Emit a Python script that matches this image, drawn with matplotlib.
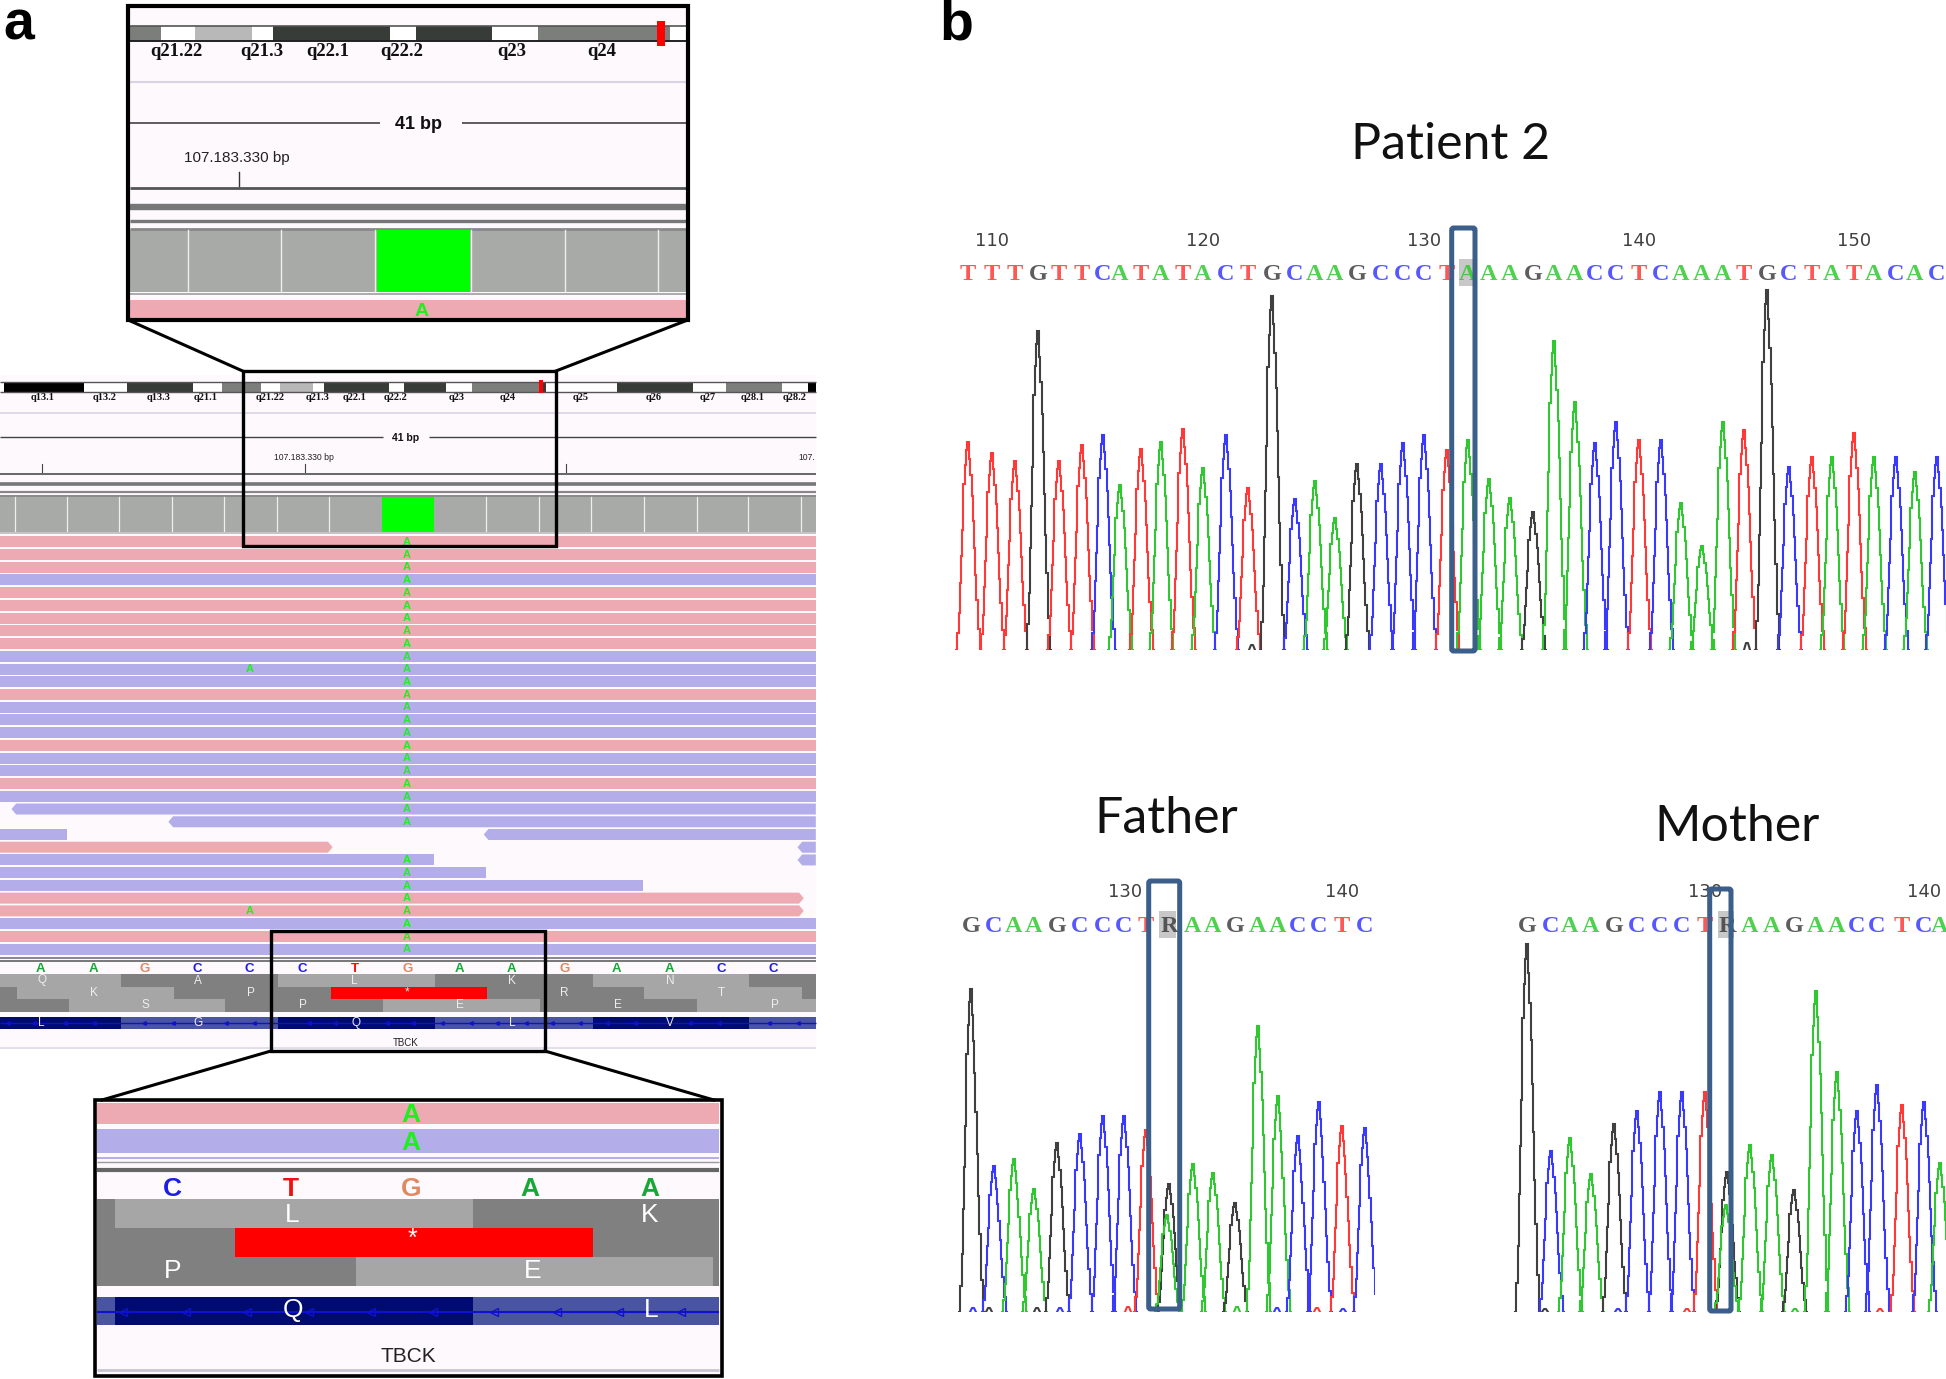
import matplotlib
matplotlib.use('Agg')
import matplotlib.pyplot as plt
from matplotlib.patches import Rectangle, Polygon, FancyBboxPatch

W, H = 1946, 1379

# Colours
BG = '#fdf9fd'
PINK = '#eeaab2'
LILAC = '#b3aeea'
LIME = '#1ef01e'
LIGHT = '#a6a6a6'
DARK = '#808080'
RED = '#ff0000'
NAVY = '#000b70'
MEDBLUE = '#4a55a0'
BOXBLUE = '#3b5f8a'
COVER = '#a8aaa8'
band_cols = {'k': '#000000', 'w': '#ffffff', 'd': '#383c38', 'g': '#7c7e7c', 'l': '#b8b8b8'}
aa_cols = {'l': LIGHT, 'd': DARK, 'r': RED}
igv_base_cols = {'A': '#18a838', 'G': '#e08860', 'C': '#1c1ce8', 'T': '#f01010'}
trace_cols = {'A': '#30c830', 'C': '#3a3aff', 'G': '#404040', 'T': '#ff3838', 'R': '#404040'}

# Panel a, top inset: ideogram
inset_band_edges = [248, 307, 372, 482, 522, 745, 796, 940, 1028, 1282, 1313]
inset_band_kinds = ['g', 'w', 'l', 'w', 'd', 'w', 'd', 'w', 'g', 'w']
inset_cyto = ['q21.22', 'q21.3', 'q22.1', 'q22.2', 'q23', 'q24']
inset_cyto_x = [338, 501, 627, 769, 979, 1151]
inset_cov_ticks = [360, 538, 718, 900, 1080, 1258]

# Panel a, main view: ideogram
main_band_edges = [0, 8, 160, 243, 370, 424, 500, 536, 598, 620, 744, 773, 853, 902, 1038, 1044, 1180, 1325, 1388, 1496, 1546, 1560]
main_band_kinds = ['w', 'k', 'w', 'd', 'w', 'g', 'w', 'l', 'w', 'd', 'w', 'd', 'w', 'g', 'd', 'w', 'd', 'w', 'g', 'w', 'k']
main_cyto = ['q13.1', 'q13.2', 'q13.3', 'q21.1', 'q21.22', 'q21.3', 'q22.1', 'q22.2', 'q23', 'q24', 'q25', 'q26', 'q27', 'q28.1', 'q28.2']
main_cyto_x = [81, 200, 304, 394, 517, 608, 678, 757, 874, 970, 1110, 1250, 1354, 1440, 1520]
main_ruler_ticks = [81, 583, 1083]
main_cov_ticks = [29, 129, 228, 329, 429, 530, 629, 930, 1030, 1130, 1231, 1332, 1431, 1532]

# Reads: (strand colour, start, end, start pointed, end pointed)
reads = [
    [('p', 0, 1560, 0, 0)], [('p', 0, 1560, 0, 0)], [('p', 0, 1560, 0, 0)], [('b', 0, 1560, 0, 0)],
    [('p', 0, 1560, 0, 0)], [('p', 0, 1560, 0, 0)], [('p', 0, 1560, 0, 0)], [('p', 0, 1560, 0, 0)],
    [('p', 0, 1560, 0, 0)], [('b', 0, 1560, 0, 0)], [('b', 0, 1560, 0, 0)], [('b', 0, 1560, 0, 0)],
    [('p', 0, 1560, 0, 0)], [('b', 0, 1560, 0, 0)], [('b', 0, 1560, 0, 0)], [('b', 0, 1560, 0, 0)],
    [('p', 0, 1560, 0, 0)], [('b', 0, 1560, 0, 0)], [('b', 0, 1560, 0, 0)], [('p', 0, 1560, 0, 0)],
    [('b', 0, 1560, 0, 0)], [('b', 22, 1560, 1, 0)], [('b', 322, 1560, 1, 0)],
    [('b', 0, 128, 0, 0), ('b', 925, 1560, 1, 0)],
    [('p', 0, 636, 0, 1), ('b', 1525, 1560, 1, 0)],
    [('b', 0, 830, 0, 0), ('b', 1525, 1560, 1, 0)],
    [('b', 0, 930, 0, 0)], [('b', 0, 1230, 0, 0)],
    [('p', 0, 1537, 0, 1)], [('p', 0, 1537, 0, 1)],
    [('b', 0, 1560, 0, 0)], [('p', 0, 1560, 0, 0)], [('b', 0, 1560, 0, 0)],
]
rows_no_variant = [23, 24]
extra_a_rows = [10, 29]

# Sequence and amino-acid tracks of the main view
main_bases = list('AAGCCCTGAAGAACC')
main_bases_x = [77, 178, 277, 377, 477, 578, 678, 779, 879, 979, 1079, 1179, 1280, 1380, 1479]
aa1_edges, aa1_kinds = [0, 231, 531, 831, 1133, 1433, 1560], ['l', 'd', 'l', 'd', 'l', 'd']
aa2_edges, aa2_kinds = [0, 32, 332, 632, 931, 1232, 1533, 1560], ['d', 'l', 'd', 'r', 'd', 'l', 'd']
aa3_edges, aa3_kinds = [0, 131, 431, 732, 1033, 1333, 1560], ['d', 'l', 'd', 'l', 'd', 'l']
aa1_labels, aa1_x = list('QALKN'), [80, 379, 678, 979, 1281]
aa2_labels, aa2_x = list('KP*RT'), [180, 480, 779, 1079, 1380]
aa3_labels, aa3_x = list('SPEEP'), [278, 579, 880, 1181, 1481]
gene_edges = [0, 231, 531, 831, 1133, 1433, 1560]
gene_kinds = [NAVY, MEDBLUE, NAVY, MEDBLUE, NAVY, MEDBLUE]
gene_labels, gene_labels_x = list('LGQLV'), [78, 379, 680, 979, 1281]
gene_arrows = [15, 65, 125, 180, 275, 330, 433, 485, 590, 640, 740, 790, 845, 900, 950, 1005, 1055, 1110, 1160, 1215,
               1320, 1375, 1470, 1525]

# Bottom inset
zoom_bases = list('CTGAA')
zoom_bases_x = [330, 556, 786, 1014, 1243]
zoom_aa1_edges, zoom_aa1_kinds = [185, 220, 904, 1375], ['d', 'l', 'd']
zoom_aa2_edges, zoom_aa2_kinds = [185, 450, 1133, 1375], ['d', 'r', 'd']
zoom_aa3_edges, zoom_aa3_kinds = [185, 680, 1363, 1375], ['d', 'l', 'd']
zoom_gene_edges, zoom_gene_kinds = [185, 220, 904, 1375], [MEDBLUE, NAVY, MEDBLUE]
zoom_arrows = [235, 355, 473, 590, 710, 828, 945, 1065, 1183, 1302]

# Panel b: chromatograms, peak position and peak height
patient_seq = list('TTTGTTCATATACTGCAAGCCCTAAAGAACCTCAAATGCTATACAC')
patient_first_base = 109
patient_pos = [968, 992, 1015, 1038, 1059, 1082, 1103, 1120, 1141, 1161, 1183, 1203, 1226, 1248, 1272, 1295, 1315, 1335,
               1357, 1381, 1403, 1424, 1447, 1468, 1489, 1510, 1533, 1554, 1575, 1595, 1616, 1639, 1661, 1681, 1702,
               1723, 1744, 1767, 1789, 1812, 1832, 1854, 1874, 1896, 1915, 1937]
patient_height = [208, 197, 189, 319, 189, 205, 215, 165, 201, 208, 221, 182, 215, 162, 354, 151, 169, 132, 186, 186,
                  207, 215, 200, 210, 171, 152, 138, 309, 248, 207, 228, 210, 210, 147, 104, 228, 220, 360, 183, 193,
                  193, 217, 193, 193, 178, 193]
patient_ticks = [110, 120, 130, 140, 150]
patient_small = [(1252, 'G', 5), (1747, 'G', 7)]

father_seq = list('GCAAGCCCTRAAGAACCTC')
father_pos = [971, 994, 1014, 1034, 1057, 1080, 1103, 1124, 1146, 1169, 1193, 1213, 1235, 1258, 1278, 1298, 1319, 1342, 1365]
father_height = [323, 146, 153, 123, 169, 178, 196, 196, 182, 128, 148, 139, 109, 286, 216, 176, 210, 186, 184]
father_het_pos, father_het_height = 1167, 97
father_ticks = [(130, 1125), (140, 1342)]
father_small = [(973, 'C', 4), (989, 'G', 4), (1037, 'G', 4), (1060, 'C', 4), (1128, 'T', 5), (1237, 'A', 5),
                (1277, 'C', 4), (1317, 'T', 4), (1343, 'C', 3)]

mother_seq = list('GCAAGCCCTRAAGAACCTCA')
mother_pos = [1527, 1551, 1570, 1591, 1614, 1637, 1660, 1682, 1705, 1727, 1750, 1772, 1794, 1816, 1837, 1857, 1877, 1902, 1924, 1940]
mother_height = [368, 161, 174, 138, 188, 201, 220, 220, 220, 140, 167, 157, 122, 321, 240, 201, 227, 207, 210, 149]
mother_het_pos, mother_het_height = 1726, 107
mother_ticks = [(130, 1705), (140, 1924)]
mother_small = [(1545, 'G', 3), (1618, 'C', 3), (1687, 'T', 3), (1795, 'A', 3), (1880, 'T', 3)]

# One peak: offset in pixels, share of peak height
peak_dx = [-12, -10, -8.6, -7.3, -6.2, -5.3, -4, -2.8, -1.7, -.6, .6, 1.8, 3, 4, 5, 6.4, 7.7, 9, 11, 13]
peak_frac = [0, .08, .18, .32, .45, .575, .8, .89, .96, 1, 1, .92, .84, .74, .62, .49, .36, .24, .1, 0]


def band(ax, x0, x1, y0, y1, color, z=1):
    ax.add_patch(Rectangle((x0, y0), x1 - x0, y1 - y0, fc=color, ec='none', zorder=z))


def hline(ax, y, x0, x1, color, lw, z=2):
    ax.plot([x0, x1], [y, y], color=color, lw=lw, solid_capstyle='butt', zorder=z)


def bands(ax, edges, kinds, y0, y1, cols):
    for i, k in enumerate(kinds):
        band(ax, edges[i], edges[i + 1], y0, y1, cols.get(k, k))


def labels(ax, names, xs, y, size, color='#eeeeee', **kw):
    for n, x in zip(names, xs):
        ax.text(x, y, n, fontsize=size, color=color, ha='center', va='center', zorder=6,
                family='Liberation Sans', **kw)


def draw_read(ax, read, y):
    kind, x0, x1, pt0, pt1 = read
    col = PINK if kind == 'p' else LILAC
    top, bot = y - 5.5, y + 5.5
    tip = 9
    pts = [(x0 + tip * pt0, top), (x1 - tip * pt1, top)]
    if pt1:
        pts.append((x1, y))
    pts += [(x1 - tip * pt1, bot), (x0 + tip * pt0, bot)]
    if pt0:
        pts.append((x0, y))
    ax.add_patch(Polygon(pts, closed=True, fc=col, ec='none', zorder=2))


def draw_trace(pos, heights, seq, x0, x1, base_y, letter_y, ticks, tick_y, small, het=None):
    ax = fig.add_axes([x0 / W, 1 - base_y / H, (x1 - x0) / W, 400 / H], zorder=2)
    ax.set_xlim(x0, x1)
    ax.set_ylim(0, 400)
    ax.axis('off')
    ax.patch.set_alpha(0)
    for x, h, b in zip(pos, heights, seq):
        ax.plot([x + d for d in peak_dx], [h * f for f in peak_frac], color=trace_cols[b], lw=1.5,
                drawstyle='steps-mid', solid_joinstyle='miter')
    if het:
        ax.plot([het[0] + d for d in peak_dx], [het[1] * f for f in peak_frac], color=trace_cols['A'], lw=1.5,
                drawstyle='steps-mid')
    for x, b, h in small:
        ax.plot([x - 3, x - 1, x + 1, x + 3], [0, h, h, 0], color=trace_cols[b], lw=1.5)
    for x, b in zip(pos, seq):
        canvas.text(x, letter_y, b, fontsize=17.5, fontweight='bold', color=trace_cols[b], ha='center', va='center',
                    family='Liberation Serif', alpha=.85, zorder=3)
    for lab, x in ticks:
        canvas.text(x, tick_y, str(lab), fontsize=13, color='#404040', ha='center', va='center',
                    family='DejaVu Sans', zorder=3)


fig = plt.figure(figsize=(W / 100, H / 100), dpi=100)

# Page canvas in pixels for panel b
canvas = fig.add_axes([0, 0, 1, 1], zorder=1)
canvas.set_xlim(0, W)
canvas.set_ylim(H, 0)
canvas.axis('off')

# Panel a shares one horizontal scale, 1568 units over 820 pixels
igv = fig.add_axes([0, 0, 820 / W, 1], zorder=1.5)
igv.set_xlim(0, 1568)
igv.set_ylim(H, 0)
igv.axis('off')
igv.patch.set_alpha(0)

# Main view
band(igv, 0, 1560, 375, 1049, BG, 0)
bands(igv, main_band_edges, main_band_kinds, 382, 391.5, band_cols)
hline(igv, 382, 0, 1560, '#555555', 1)
hline(igv, 391.5, 0, 1560, '#555555', 1)
band(igv, 1030, 1038, 380, 393, RED, 3)
for n, x in zip(main_cyto, main_cyto_x):
    igv.text(x, 397, n, fontsize=7.5, fontweight='bold', family='Liberation Serif', ha='center', va='center', color='#111111')
hline(igv, 413, 0, 1560, '#d8d4e4', 1.2)
hline(igv, 437, 0, 733, '#444444', 1)
hline(igv, 437, 820, 1560, '#444444', 1)
igv.text(775, 438, '41 bp', fontsize=7.5, fontweight='bold', family='Liberation Sans', ha='center', va='center', color='#111111')
igv.text(582, 457, '107.183.330 bp', fontsize=6.2, family='Liberation Sans', ha='center', va='center', color='#222222')
igv.text(1526, 457, '107.', fontsize=6.2, family='Liberation Sans', ha='left', va='center', color='#222222')
for x in main_ruler_ticks:
    igv.plot([x, x], [464, 472], color='#444444', lw=.8, zorder=2)
hline(igv, 473.6, 0, 1560, '#666666', 1.4)
hline(igv, 484, 0, 1560, '#777777', 2.6)
hline(igv, 491.5, 0, 1560, '#888888', 1.6)
hline(igv, 496, 0, 1560, '#888888', 1.4)
band(igv, 0, 1560, 497, 531.5, COVER)
band(igv, 730, 830, 497, 531.5, '#00ff00', 3)
for x in main_cov_ticks:
    igv.plot([x, x], [497, 531.5], color='#eeeeee', lw=.9, zorder=2)
hline(igv, 533, 0, 1560, '#bbbbbb', 1.2)

# Read stack
for i, row in enumerate(reads):
    y = 541.7 + i * 12.73
    for r in row:
        draw_read(igv, r, y)
    if i not in rows_no_variant:
        igv.text(778, y + .3, 'A', fontsize=8, fontweight='bold', color=LIME, family='Liberation Sans', ha='center', va='center', zorder=4)
    if i in extra_a_rows:
        igv.text(477, y + .3, 'A', fontsize=8, fontweight='bold', color=LIME, family='Liberation Sans', ha='center', va='center', zorder=4)
hline(igv, 957.5, 0, 1560, '#888888', 1.4)
hline(igv, 961, 0, 1560, '#777777', 1.4)

# Sequence, translation and gene tracks
for b, x in zip(main_bases, main_bases_x):
    igv.text(x, 969, b, fontsize=9.5, fontweight='bold', color=igv_base_cols[b], family='Liberation Sans', ha='center', va='center', zorder=4)
bands(igv, aa1_edges, aa1_kinds, 974, 986.7, aa_cols)
bands(igv, aa2_edges, aa2_kinds, 986.7, 999.3, aa_cols)
bands(igv, aa3_edges, aa3_kinds, 999.3, 1012, aa_cols)
labels(igv, aa1_labels, aa1_x, 980.5, 8.5)
labels(igv, aa2_labels, aa2_x, 992.5, 8.5)
labels(igv, aa3_labels, aa3_x, 1005.5, 8.5)
bands(igv, gene_edges, gene_kinds, 1016.7, 1029.3, {})
hline(igv, 1023, 0, 1560, '#1010d0', 1)
igv.plot(gene_arrows, [1023] * len(gene_arrows), ls='none', marker='<', ms=2.5, color='#1010d0', zorder=3)
labels(igv, gene_labels, gene_labels_x, 1023, 8.5)
labels(igv, ['TBCK'], [776], 1042.7, 7, color='#222222')
hline(igv, 1048, 0, 1560, '#e2deea', 1.4)

# Top inset
band(igv, 245, 1315, 6, 320, BG, 4)
for i, k in enumerate(inset_band_kinds):
    band(igv, inset_band_edges[i], inset_band_edges[i + 1], 25.7, 41, band_cols[k], 4.1)
hline(igv, 25.7, 248, 1313, '#555555', 1.2, 4.2)
hline(igv, 41, 248, 1313, '#222222', 1.4, 4.2)
band(igv, 1256, 1272, 21, 46, RED, 4.3)
for n, x in zip(inset_cyto, inset_cyto_x):
    igv.text(x, 51, n, fontsize=13.5, fontweight='bold', family='Liberation Serif', ha='center', va='center', color='#111111', zorder=5)
hline(igv, 82, 248, 1313, '#d8d4e4', 1.5, 4.2)
hline(igv, 122.5, 248, 727, '#333333', 1.1, 4.2)
hline(igv, 122.5, 883, 1313, '#333333', 1.1, 4.2)
igv.text(800, 124.6, '41 bp', fontsize=13, fontweight='bold', family='Liberation Sans', ha='center', va='center', color='#111111', zorder=5)
igv.text(453, 158, '107.183.330 bp', fontsize=11, family='Liberation Sans', ha='center', va='center', color='#222222', zorder=5)
igv.plot([457, 457], [172, 186], color='#333333', lw=1, zorder=5)
hline(igv, 188, 248, 1313, '#555555', 2, 4.2)
hline(igv, 207, 248, 1313, '#777777', 4.6, 4.2)
hline(igv, 221, 248, 1313, '#777777', 2.4, 4.2)
hline(igv, 228.5, 248, 1313, '#888888', 2, 4.2)
band(igv, 248, 1313, 230, 292, COVER, 4.1)
band(igv, 720, 898, 230, 292, '#00ff00', 4.2)
for x in inset_cov_ticks:
    igv.plot([x, x], [230, 292], color='#eeeeee', lw=1, zorder=4.3)
hline(igv, 293.5, 248, 1313, '#aaaaaa', 1.4, 4.2)
band(igv, 248, 1313, 300, 320, PINK, 4.1)
igv.text(806, 311, 'A', fontsize=14, fontweight='bold', color=LIME, family='Liberation Sans', ha='center', va='center', zorder=5)

# Bottom inset
band(igv, 181, 1380, 1100, 1378, BG, 4)
band(igv, 185, 1375, 1103, 1124, PINK, 4.1)
band(igv, 185, 1375, 1129, 1153, LILAC, 4.1)
igv.text(785, 1115, 'A', fontsize=19, fontweight='bold', color=LIME, family='Liberation Sans', ha='center', va='center', zorder=5)
igv.text(785, 1143.5, 'A', fontsize=19, fontweight='bold', color=LIME, family='Liberation Sans', ha='center', va='center', zorder=5)
hline(igv, 1158, 185, 1375, '#b3aeea', 1.4, 4.2)
hline(igv, 1162, 185, 1375, '#999999', 1, 4.2)
hline(igv, 1170, 185, 1375, '#666666', 3, 4.2)
for b, x in zip(zoom_bases, zoom_bases_x):
    igv.text(x, 1189, b, fontsize=19, fontweight='bold', color=igv_base_cols[b], family='Liberation Sans', ha='center', va='center', zorder=5)
for i, k in enumerate(zoom_aa1_kinds):
    band(igv, zoom_aa1_edges[i], zoom_aa1_edges[i + 1], 1199, 1228.3, aa_cols[k], 4.1)
for i, k in enumerate(zoom_aa2_kinds):
    band(igv, zoom_aa2_edges[i], zoom_aa2_edges[i + 1], 1228.3, 1257.3, aa_cols[k], 4.1)
for i, k in enumerate(zoom_aa3_kinds):
    band(igv, zoom_aa3_edges[i], zoom_aa3_edges[i + 1], 1257.3, 1286, aa_cols[k], 4.1)
labels(igv, ['L', 'K'], [558, 1243], 1215, 19, color='white')
labels(igv, ['*'], [788], 1239, 18, color='white')
labels(igv, ['P', 'E'], [330, 1018], 1271, 19, color='white')
for i, k in enumerate(zoom_gene_kinds):
    band(igv, zoom_gene_edges[i], zoom_gene_edges[i + 1], 1296.7, 1325, k, 4.1)
hline(igv, 1312, 185, 1375, '#1010d0', 1.5, 4.5)
igv.plot(zoom_arrows, [1312] * len(zoom_arrows), ls='none', marker='<', ms=6, mfc='none', mec='#1010d0', zorder=4.6)
labels(igv, ['Q', 'L'], [560, 1245], 1310, 19, color='white')
labels(igv, ['TBCK'], [780], 1356, 15, color='#222222')
hline(igv, 1370, 185, 1375, '#c8c4d0', 2, 4.2)

# Black zoom frames and their connectors
frames = [(245, 6.4, 1315, 320, 3), (464, 371, 1063, 546, 2.4), (518, 931, 1042, 1051, 2.4), (181, 1100, 1380, 1376, 2.6)]
for x0, y0, x1, y1, lw in frames:
    igv.add_patch(Rectangle((x0, y0), x1 - x0, y1 - y0, fc='none', ec='black', lw=lw, zorder=7))
connectors = [((245, 320), (464, 371)), ((1315, 320), (1063, 371)), ((518, 1051), (195, 1100)), ((1042, 1051), (1365, 1100))]
for (xa, ya), (xb, yb) in connectors:
    igv.plot([xa, xb], [ya, yb], color='black', lw=2.2, zorder=7)

# Panel letters
canvas.text(19, 26, 'a', fontsize=40, fontweight='bold', family='Liberation Sans', ha='center', va='center')
canvas.text(956, 26, 'b', fontsize=40, fontweight='bold', family='Liberation Sans', ha='center', va='center')

# Panel b titles
canvas.text(1451, 145, 'Patient 2', fontsize=36, family='Lato', ha='center', va='center', color='#111111')
canvas.text(1166, 819, 'Father', fontsize=36, family='Lato', ha='center', va='center', color='#111111')
canvas.text(1737, 827, 'Mother', fontsize=36, family='Lato', ha='center', va='center', color='#111111')

# Highlighted bases under the call
for x0, x1, y0, y1 in [(1459, 1473, 259, 286), (1159, 1176, 911, 938), (1718, 1734, 911, 938)]:
    band(canvas, x0, x1, y0, y1, '#c8c8c8', 1)

patient_tick_list = [(n, patient_pos[n - patient_first_base]) for n in patient_ticks]
draw_trace(patient_pos, patient_height, patient_seq, 955, W, 650, 274, patient_tick_list, 241, patient_small)
draw_trace(father_pos, father_height, father_seq, 955, 1375, 1312, 927, father_ticks, 892, father_small, (father_het_pos, father_het_height))
draw_trace(mother_pos, mother_height, mother_seq, 1510, W, 1312, 927, mother_ticks, 892, mother_small, (mother_het_pos, mother_het_height))

# Blue boxes over the variant base
overlay = fig.add_axes([0, 0, 1, 1], zorder=3)
overlay.set_xlim(0, W)
overlay.set_ylim(H, 0)
overlay.axis('off')
overlay.patch.set_alpha(0)
for x0, x1, y0, y1 in [(1451.7, 1475, 228, 651), (1148.7, 1179.7, 881, 1309), (1709.7, 1731, 889, 1311)]:
    overlay.add_patch(FancyBboxPatch((x0, y0), x1 - x0, y1 - y0, boxstyle='round,pad=0,rounding_size=2',
                                     fc='none', ec=BOXBLUE, lw=3.6))

fig.savefig('out.png', dpi=100, facecolor='white')
